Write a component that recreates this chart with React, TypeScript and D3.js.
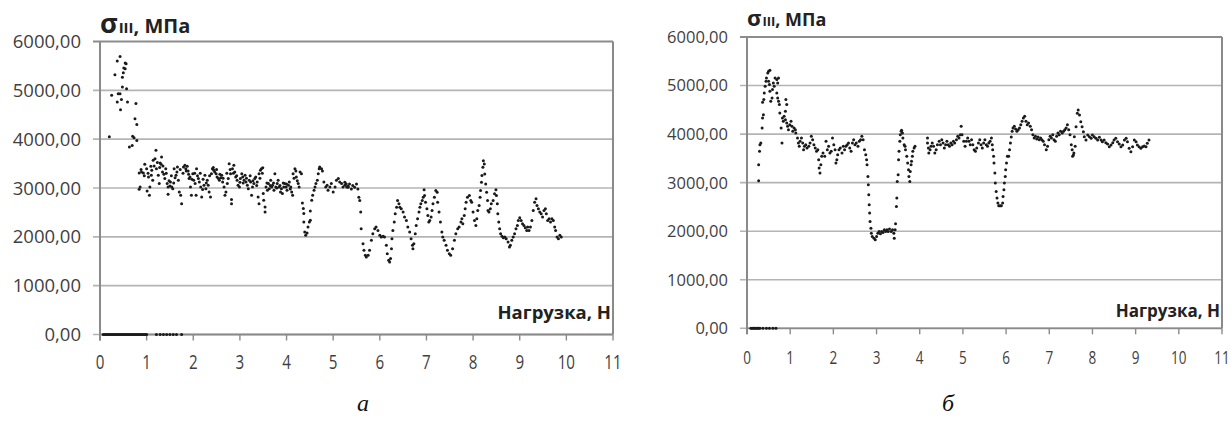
import React from "react";
import * as d3 from "d3";

// ---------- data ----------
const yTicks = [0, 1000, 2000, 3000, 4000, 5000, 6000];
const xTicks = [0, 1, 2, 3, 4, 5, 6, 7, 8, 9, 10, 11];
const yTitleMain = "σ";
const yTitleSub = "III";
const yTitleUnit = ", МПа";
const xTitle = "Нагрузка, Н";
const captions = ["а", "б"];

// zero-valued readings (load, N)
const zeroA = [0.07, 0.1, 0.13, 0.16, 0.19, 0.22, 0.25, 0.28, 0.31, 0.34, 0.37, 0.4, 0.43, 0.46, 0.49, 0.52, 0.55, 0.58, 0.61, 0.64, 0.67, 0.7, 0.73, 0.76, 0.79, 0.82, 0.85, 0.88, 0.91, 0.94, 0.97, 1.0, 1.21, 1.29, 1.36, 1.43, 1.5, 1.57, 1.64, 1.75];
const zeroB = [0.09, 0.12, 0.15, 0.18, 0.21, 0.24, 0.27, 0.3, 0.37, 0.45, 0.52, 0.6, 0.67];

// chart a: [load, stress]
const seriesA: [number, number][] = [
  [0.2, 4050], [0.25, 4897], [0.32, 5320], [0.37, 5600], [0.43, 5695], [0.39, 4930], [0.37, 4760], [0.44, 4600], [0.43, 4930], [0.46, 4810],
  [0.48, 5070], [0.48, 5270], [0.5, 5360], [0.51, 5455], [0.54, 5560], [0.56, 5545], [0.54, 5440], [0.57, 5030], [0.59, 4760], [0.77, 4730],
  [0.75, 4420], [0.79, 4300], [0.7, 4060], [0.73, 4030], [0.79, 3975], [0.63, 3840], [0.69, 3870],
  [0.84, 3308], [0.86, 3021], [0.84, 2974], [0.89, 3328], [0.93, 3308], [0.96, 3485], [1.0, 3396], [1.04, 3226], [1.01, 2939], [1.06, 2851],
  [1.07, 3021], [1.09, 3444], [1.11, 3362], [1.13, 3158], [1.14, 3567], [1.18, 3601], [1.2, 3772], [1.21, 3396], [1.25, 3260], [1.27, 3090],
  [1.29, 3512], [1.31, 3485], [1.32, 3635], [1.34, 3328], [1.37, 3280], [1.39, 3192], [1.41, 3396], [1.44, 3090], [1.46, 3021], [1.46, 2871],
  [1.5, 3042], [1.51, 3124], [1.54, 3021], [1.56, 2987], [1.59, 3396], [1.61, 3212], [1.63, 3260], [1.66, 3430], [1.68, 3158], [1.7, 2919],
  [1.73, 2851], [1.75, 2680], [1.79, 3430], [1.82, 3465], [1.84, 3396], [1.87, 3444], [1.89, 3349], [1.91, 3192], [1.93, 3226], [1.94, 3021],
  [1.96, 2851], [1.99, 3294], [2.01, 3158], [2.04, 3090], [2.06, 2851], [2.07, 3396], [2.11, 3192], [2.13, 3124], [2.16, 3021], [2.18, 2817],
  [2.2, 2967], [2.23, 3055], [2.25, 3260], [2.27, 2987], [2.3, 3158], [2.32, 3055], [2.34, 2919], [2.37, 2817], [2.39, 3294], [2.41, 3396],
  [2.44, 3362], [2.46, 3328], [2.49, 3294], [2.51, 3226], [2.54, 3192], [2.56, 3158], [2.59, 3212], [2.61, 3260], [2.63, 3124], [2.66, 3021],
  [2.68, 2851], [2.7, 2919], [2.73, 3090], [2.75, 3192], [2.77, 3499], [2.8, 3294], [2.82, 2762], [2.82, 2680], [2.84, 3396], [2.87, 3465],
  [2.89, 3328], [2.91, 3226], [2.94, 3158], [2.96, 3055], [2.99, 3021], [3.01, 3192], [3.04, 3294], [3.06, 3226], [3.09, 3158], [3.11, 3260],
  [3.13, 3124], [3.16, 3055], [3.18, 2987], [3.2, 3158], [3.23, 3124], [3.25, 2851], [3.27, 3021], [3.3, 3090], [3.32, 3192], [3.34, 3226],
  [3.37, 3124], [3.39, 2817], [3.41, 3294], [3.44, 3362], [3.46, 3396], [3.49, 3417], [3.41, 2680], [3.5, 2885], [3.51, 2748], [3.54, 2612],
  [3.54, 2510], [3.56, 3021], [3.59, 2953], [3.61, 3090], [3.63, 2987], [3.66, 3158], [3.68, 3021], [3.7, 3055], [3.73, 2953], [3.75, 3294],
  [3.77, 3021], [3.8, 3090], [3.82, 3158], [3.84, 3021], [3.87, 2919], [3.89, 2987], [3.91, 2885], [3.94, 3021], [3.96, 3090], [3.99, 3021],
  [4.01, 2953], [4.04, 3055], [4.06, 3124], [4.09, 3021], [4.11, 2919], [4.13, 2851], [4.14, 3294], [4.18, 3396], [4.2, 3349], [4.21, 3226],
  [4.25, 3090], [4.27, 3021], [4.29, 3328], [4.32, 3294],
  // additional readings in the dense band
  [0.88, 3380], [0.95, 3250], [1.03, 3300], [1.1, 3260], [1.16, 3450], [1.23, 3520], [1.28, 3420], [1.35, 3450], [1.42, 3300], [1.48, 3150],
  [1.53, 3250], [1.58, 3100], [1.65, 3330], [1.72, 3380], [1.78, 3300], [1.85, 3350], [1.9, 3280], [1.97, 3180], [2.03, 3300], [2.09, 3250],
  [2.15, 3300], [2.21, 3180], [2.28, 3100], [2.35, 3250], [2.43, 3420], [2.5, 3380], [2.57, 3280], [2.64, 3200], [2.72, 3300], [2.79, 3380],
  [2.86, 3300], [2.93, 3250], [3.0, 3120], [3.07, 3100], [3.14, 3200], [3.22, 3250], [3.28, 3150], [3.36, 3050], [3.43, 3200], [3.48, 3300],
  [3.58, 3100], [3.65, 3050], [3.72, 3100], [3.79, 3000], [3.86, 3050], [3.93, 3100], [4.0, 3080], [4.08, 2980], [4.16, 3200], [4.23, 3150],
  [4.34, 2694], [4.36, 2578], [4.37, 2476], [4.37, 2305], [4.39, 2100], [4.41, 2032], [4.44, 2080], [4.46, 2203], [4.49, 2305], [4.51, 2339],
  [4.51, 2530], [4.54, 2748], [4.56, 2851], [4.59, 2953], [4.61, 3021], [4.63, 3090], [4.66, 3158], [4.68, 3294], [4.7, 3396], [4.71, 3430],
  [4.75, 3396], [4.77, 3349], [4.8, 3124], [4.84, 3021], [4.87, 3055], [4.89, 2953], [4.93, 3021], [4.96, 3090], [5.0, 2919], [5.04, 3021],
  [5.07, 3158], [5.11, 3192], [5.14, 3124], [5.18, 3090], [5.21, 3021], [5.25, 3055], [5.29, 3021], [5.32, 3035],
  [5.25, 3118], [5.28, 3084], [5.32, 3016], [5.35, 3084], [5.39, 2982], [5.42, 3050], [5.46, 3016], [5.5, 3084], [5.53, 2982],
  [5.55, 2812], [5.57, 2744], [5.59, 2506], [5.6, 2166], [5.64, 1860], [5.66, 1724], [5.69, 1622], [5.71, 1588], [5.75, 1622], [5.78, 1724],
  [5.82, 1928], [5.85, 2064], [5.89, 2166], [5.92, 2200], [5.96, 2132], [6.0, 2030], [6.03, 1996], [6.07, 2010], [6.1, 1996], [6.14, 1826],
  [6.16, 1656], [6.19, 1520], [6.21, 1486], [6.23, 1554], [6.25, 1758], [6.26, 1962], [6.28, 2132], [6.31, 2302], [6.33, 2472], [6.36, 2608],
  [6.38, 2744], [6.41, 2676], [6.43, 2608], [6.46, 2574], [6.5, 2506], [6.53, 2404], [6.57, 2336], [6.6, 2200], [6.64, 2098], [6.67, 1962],
  [6.7, 1826], [6.71, 1758], [6.73, 1860], [6.76, 2064], [6.78, 2234], [6.81, 2370], [6.84, 2506], [6.86, 2608], [6.88, 2676], [6.91, 2744],
  [6.93, 2812], [6.95, 2962], [6.96, 2846], [6.98, 2710], [7.01, 2574], [7.03, 2438], [7.05, 2302], [7.07, 2336], [7.1, 2404], [7.12, 2540],
  [7.14, 2676], [7.17, 2812], [7.2, 2948], [7.23, 2914], [7.24, 2710], [7.27, 2506], [7.3, 2302], [7.33, 2098], [7.35, 1996], [7.38, 1928],
  [7.42, 1826], [7.45, 1724], [7.49, 1656], [7.52, 1622], [7.56, 1758], [7.6, 1928], [7.63, 2064], [7.67, 2166], [7.7, 2200], [7.74, 2302],
  [7.76, 2370], [7.78, 2268], [7.81, 2438], [7.83, 2574], [7.85, 2710], [7.88, 2812], [7.92, 2846], [7.95, 2744], [7.97, 2710], [8.0, 2506],
  [8.03, 2336], [8.06, 2234], [8.08, 2370], [8.1, 2540], [8.13, 2642], [8.15, 2812], [8.16, 2948], [8.18, 3118], [8.19, 3254], [8.21, 3424],
  [8.22, 3560], [8.24, 3492], [8.25, 3288], [8.27, 3084], [8.29, 2914], [8.31, 2744], [8.32, 2540], [8.34, 2506], [8.37, 2574], [8.39, 2676],
  [8.43, 2744], [8.46, 2880], [8.49, 2962], [8.5, 2846], [8.52, 2676], [8.53, 2472], [8.55, 2302], [8.57, 2166], [8.59, 2064], [8.62, 2010],
  [8.65, 1982], [8.68, 1996], [8.71, 1962], [8.75, 1894], [8.78, 1792], [8.8, 1826], [8.83, 1928], [8.86, 1996], [8.89, 2064], [8.92, 2166],
  [8.95, 2234], [8.97, 2336], [9.0, 2390], [9.03, 2336], [9.06, 2268], [9.09, 2234], [9.12, 2186], [9.15, 2132], [9.17, 2200], [9.2, 2132],
  [9.23, 2200], [9.26, 2336], [9.29, 2540], [9.32, 2710], [9.35, 2778], [9.37, 2642], [9.4, 2574], [9.43, 2506], [9.46, 2472], [9.49, 2404],
  [9.52, 2540], [9.55, 2574], [9.57, 2472], [9.6, 2336], [9.63, 2370], [9.66, 2302], [9.69, 2370], [9.72, 2336], [9.75, 2200], [9.77, 2132],
  [9.8, 1996], [9.83, 1962], [9.86, 2030], [9.89, 1996],
];

// chart б: [load, stress]
const seriesB: [number, number][] = [
  [0.27, 3040], [0.27, 3370], [0.29, 3645], [0.3, 3782], [0.32, 3817], [0.35, 4126], [0.36, 4333], [0.38, 4401], [0.36, 4656], [0.39, 4711],
  [0.4, 4848], [0.42, 4986], [0.44, 5089], [0.45, 5158], [0.48, 5261], [0.5, 5295], [0.53, 5316], [0.5, 5089], [0.52, 5020], [0.53, 4883],
  [0.55, 4676], [0.58, 4745], [0.59, 4917], [0.61, 5055], [0.63, 4986], [0.65, 5158], [0.69, 5123], [0.71, 5055], [0.73, 5158], [0.69, 4848],
  [0.71, 4745], [0.73, 4676], [0.75, 4608], [0.76, 4436], [0.79, 4126], [0.81, 3817], [0.82, 4333], [0.84, 4264], [0.86, 4367], [0.89, 4470],
  [0.9, 4711], [0.92, 4608], [0.89, 4298], [0.92, 4229], [0.94, 4161], [0.96, 4092], [0.99, 4195], [1.02, 4264], [1.04, 4161], [1.06, 4057],
  [1.09, 4126], [1.12, 4092], [1.13, 4023], [1.17, 3920], [1.19, 3817], [1.21, 3748], [1.23, 3851], [1.26, 3920], [1.29, 3817], [1.31, 3679],
  [1.33, 3748], [1.36, 3782], [1.39, 3714], [1.43, 3748], [1.46, 3817], [1.49, 3954], [1.52, 3885], [1.55, 3782], [1.58, 3714], [1.61, 3645],
  [1.64, 3679], [1.66, 3473], [1.67, 3301], [1.69, 3198], [1.71, 3370], [1.73, 3542], [1.76, 3610], [1.8, 3542], [1.83, 3851], [1.86, 3679],
  [1.89, 3748], [1.92, 3610], [1.95, 3645], [1.98, 3920], [2.01, 3782], [2.04, 3679], [2.06, 3404], [2.08, 3473], [2.1, 3576], [2.13, 3679],
  [2.16, 3714], [2.2, 3610], [2.23, 3748], [2.26, 3679], [2.29, 3748], [2.32, 3782], [2.35, 3817], [2.38, 3714], [2.41, 3645], [2.44, 3817],
  [2.47, 3885], [2.5, 3782], [2.53, 3817], [2.57, 3748], [2.6, 3851], [2.63, 3885], [2.66, 3954], [2.69, 3885], [2.72, 3679], [2.75, 3576],
  [2.77, 3473], [2.78, 3370], [2.8, 3129], [2.81, 2957], [2.82, 2751], [2.83, 2545], [2.84, 2373], [2.85, 2201], [2.87, 2063], [2.88, 1960],
  [2.9, 1891], [2.94, 1857], [2.97, 1822], [3.0, 1891], [3.03, 1960], [3.06, 1994], [3.09, 1946], [3.12, 1994], [3.15, 1974], [3.18, 2029],
  [3.21, 1994], [3.24, 2029], [3.27, 1994], [3.3, 2043], [3.34, 1994], [3.37, 2029], [3.4, 1960], [3.41, 1857], [3.43, 2029], [3.44, 2152],
  [3.46, 2510], [3.47, 2682], [3.48, 3026], [3.5, 3163], [3.51, 3473], [3.52, 3645], [3.54, 3851], [3.55, 3989], [3.57, 4057], [3.58, 4078],
  [3.6, 4023], [3.61, 3920], [3.64, 3782], [3.66, 3748], [3.67, 3679], [3.7, 3542], [3.72, 3404], [3.74, 3266], [3.75, 3129], [3.77, 3026],
  [3.78, 3232], [3.8, 3370], [3.81, 3439], [3.83, 3542], [3.84, 3645], [3.87, 3714], [3.89, 3748],
  [4.18, 3920], [4.18, 3817], [4.2, 3714], [4.21, 3610], [4.24, 3679], [4.26, 3748], [4.29, 3817], [4.32, 3748], [4.35, 3610], [4.38, 3679],
  [4.41, 3782], [4.45, 3851], [4.48, 3782], [4.51, 3885], [4.54, 3817], [4.57, 3714], [4.6, 3782], [4.63, 3851], [4.66, 3782], [4.69, 3748],
  [4.72, 3817], [4.75, 3782], [4.78, 3851], [4.81, 3817], [4.85, 3885], [4.88, 3954], [4.91, 3920], [4.94, 3989], [4.96, 4161], [4.98, 3989],
  [5.02, 3851], [5.05, 3748], [5.08, 3851], [5.11, 3920], [5.14, 3851], [5.17, 3782], [5.2, 3885], [5.23, 3782], [5.26, 3679], [5.29, 3645],
  [5.32, 3714], [5.36, 3817], [5.39, 3885], [5.42, 3782], [5.45, 3714], [5.48, 3817], [5.51, 3885], [5.54, 3782], [5.57, 3748], [5.6, 3817],
  [5.63, 3851], [5.66, 3920], [5.68, 3782], [5.69, 3679], [5.71, 3542], [5.72, 3404], [5.74, 3198], [5.75, 2991], [5.77, 2820], [5.79, 2682],
  [5.81, 2579], [5.83, 2524], [5.86, 2524], [5.89, 2524], [5.92, 2579], [5.93, 2716], [5.95, 2854], [5.96, 2991], [5.98, 3129], [5.99, 3266],
  [6.01, 3404], [6.03, 3542], [6.06, 3542], [6.08, 3679], [6.1, 3817], [6.12, 3941], [6.14, 4057], [6.16, 4126], [6.19, 4161], [6.22, 4106],
  [6.25, 4057], [6.28, 4092], [6.31, 4126], [6.34, 4195], [6.37, 4264], [6.4, 4333], [6.43, 4367], [6.46, 4264], [6.49, 4195], [6.52, 4229],
  [6.56, 4161], [6.59, 4092], [6.62, 3989], [6.65, 3920], [6.68, 3954], [6.71, 3899], [6.74, 3941], [6.77, 3885], [6.8, 3920], [6.83, 3885],
  [6.86, 3851], [6.89, 3782], [6.93, 3679], [6.96, 3748], [6.99, 3885], [7.02, 3954], [7.05, 3920], [7.08, 3989], [7.11, 3885], [7.14, 3851],
  [7.17, 3954], [7.2, 4023], [7.23, 3989], [7.26, 4057], [7.3, 4023], [7.33, 4057], [7.36, 4092], [7.39, 4126], [7.42, 4195], [7.45, 4092],
  [7.48, 3989], [7.51, 3782], [7.53, 3679], [7.54, 3542], [7.56, 3570], [7.57, 3610], [7.58, 3946], [7.6, 3748], [7.62, 4152], [7.65, 4428],
  [7.67, 4496], [7.7, 4393], [7.73, 4255], [7.76, 4152], [7.79, 4050], [7.81, 3946], [7.85, 3878], [7.89, 3981], [7.93, 3946], [7.97, 3913],
  [8.0, 3981], [8.04, 3946], [8.08, 3913], [8.12, 3878], [8.16, 3934], [8.2, 3878], [8.23, 3843], [8.27, 3878], [8.31, 3823], [8.35, 3796],
  [8.39, 3740], [8.43, 3775], [8.47, 3823], [8.5, 3878], [8.54, 3913], [8.58, 3843], [8.62, 3796], [8.66, 3740], [8.7, 3775], [8.74, 3878],
  [8.78, 3913], [8.81, 3843], [8.85, 3707], [8.89, 3638], [8.93, 3740], [8.97, 3878], [9.01, 3843], [9.04, 3775], [9.08, 3740], [9.12, 3707],
  [9.16, 3740], [9.2, 3755], [9.24, 3740], [9.27, 3810], [9.31, 3878],
];

// ---------- panel ----------
type PanelProps = {
  points: [number, number][];
  zeros: number[];
  left: number; right: number; top: number; bottom: number;
  tickFont: number; titleFont: number; sigmaFont: number; xTitleFont: number;
  xLabelY: number; titleY: number; xTitleY: number; caption: string; captionX: number;
};

function Panel(p: PanelProps) {
  const x = d3.scaleLinear().domain([0, 11]).range([p.left, p.right]);
  const y = d3.scaleLinear().domain([0, 6000]).range([p.bottom, p.top]);
  const fmt = (v: number) => d3.format(".2f")(v).replace(".", ",");
  const grid = "#b4b4b4";
  const axis = "#8a8a8a";
  const font = "'Open Sans', sans-serif";
  return (
    <g>
      {yTicks.map((t) => (
        <line key={"g" + t} x1={p.left - 7} x2={p.right} y1={y(t)} y2={y(t)} stroke={t === 6000 ? "#8c8c8c" : grid} strokeWidth={t === 6000 ? 2 : 1.6} />
      ))}
      <line x1={p.right} x2={p.right} y1={p.top} y2={p.bottom} stroke={axis} strokeWidth={2} />
      <line x1={p.left} x2={p.left} y1={p.top} y2={p.bottom + 6} stroke={axis} strokeWidth={2} />
      <line x1={p.left} x2={p.right} y1={p.bottom} y2={p.bottom} stroke={axis} strokeWidth={1.8} />
      {xTicks.map((t) => (
        <line key={"xt" + t} x1={x(t)} x2={x(t)} y1={p.bottom} y2={p.bottom + 6} stroke={axis} strokeWidth={1.4} />
      ))}
      {yTicks.map((t) => (
        <text key={"yl" + t} x={p.left - 19} y={y(t)} dy="0.36em" textAnchor="end" fontSize={p.tickFont} fill="#3f3f3f" fontFamily={font}>
          {fmt(t)}
        </text>
      ))}
      {xTicks.map((t) => (
        <text key={"xl" + t} transform={`translate(${x(t)},${p.xLabelY}) scale(0.82,1.12)`} dy="0.36em" textAnchor="middle" fontSize={p.tickFont} fill="#3f3f3f" fontFamily={font}>
          {t}
        </text>
      ))}
      {p.zeros.map((v, i) => (
        <circle key={"z" + i} cx={x(v)} cy={y(0)} r={1.5} fill="#1a1a1a" />
      ))}
      {p.points.map((d, i) => (
        <circle key={"p" + i} cx={x(d[0])} cy={y(d[1])} r={1.5} fill="#1a1a1a" />
      ))}
      <text x={p.left} y={p.titleY} fontFamily={font} fontWeight="bold" fill="#222">
        <tspan fontSize={p.sigmaFont}>{yTitleMain}</tspan>
        <tspan fontSize={p.titleFont - 5} dx="1">{yTitleSub}</tspan>
        <tspan fontSize={p.titleFont}>{yTitleUnit}</tspan>
      </text>
      <text x={p.right - 2} y={p.xTitleY} textAnchor="end" fontFamily={font} fontWeight="bold" fontSize={p.xTitleFont} fill="#222">
        {xTitle}
      </text>
      <text x={p.captionX} y={411} textAnchor="middle" fontFamily="'Liberation Serif', serif" fontStyle="italic" fontSize={24} fill="#111">
        {p.caption}
      </text>
    </g>
  );
}

export default function App() {
  return (
    <svg width={1232} height={427} style={{ position: "absolute", left: 0, top: 0, background: "#fff" }}>
      <rect width={1232} height={427} fill="#fff" />
      <Panel points={seriesA} zeros={zeroA} left={100} right={613} top={41.5} bottom={334.5}
        tickFont={18.5} titleFont={20} sigmaFont={27} xTitleFont={18.5} xLabelY={362} titleY={33} xTitleY={319} caption={captions[0]} captionX={363} />
      <Panel points={seriesB} zeros={zeroB} left={747} right={1222} top={37} bottom={328.3}
        tickFont={16.5} titleFont={18} sigmaFont={22} xTitleFont={17} xLabelY={357} titleY={26} xTitleY={317} caption={captions[1]} captionX={948} />
    </svg>
  );
}
